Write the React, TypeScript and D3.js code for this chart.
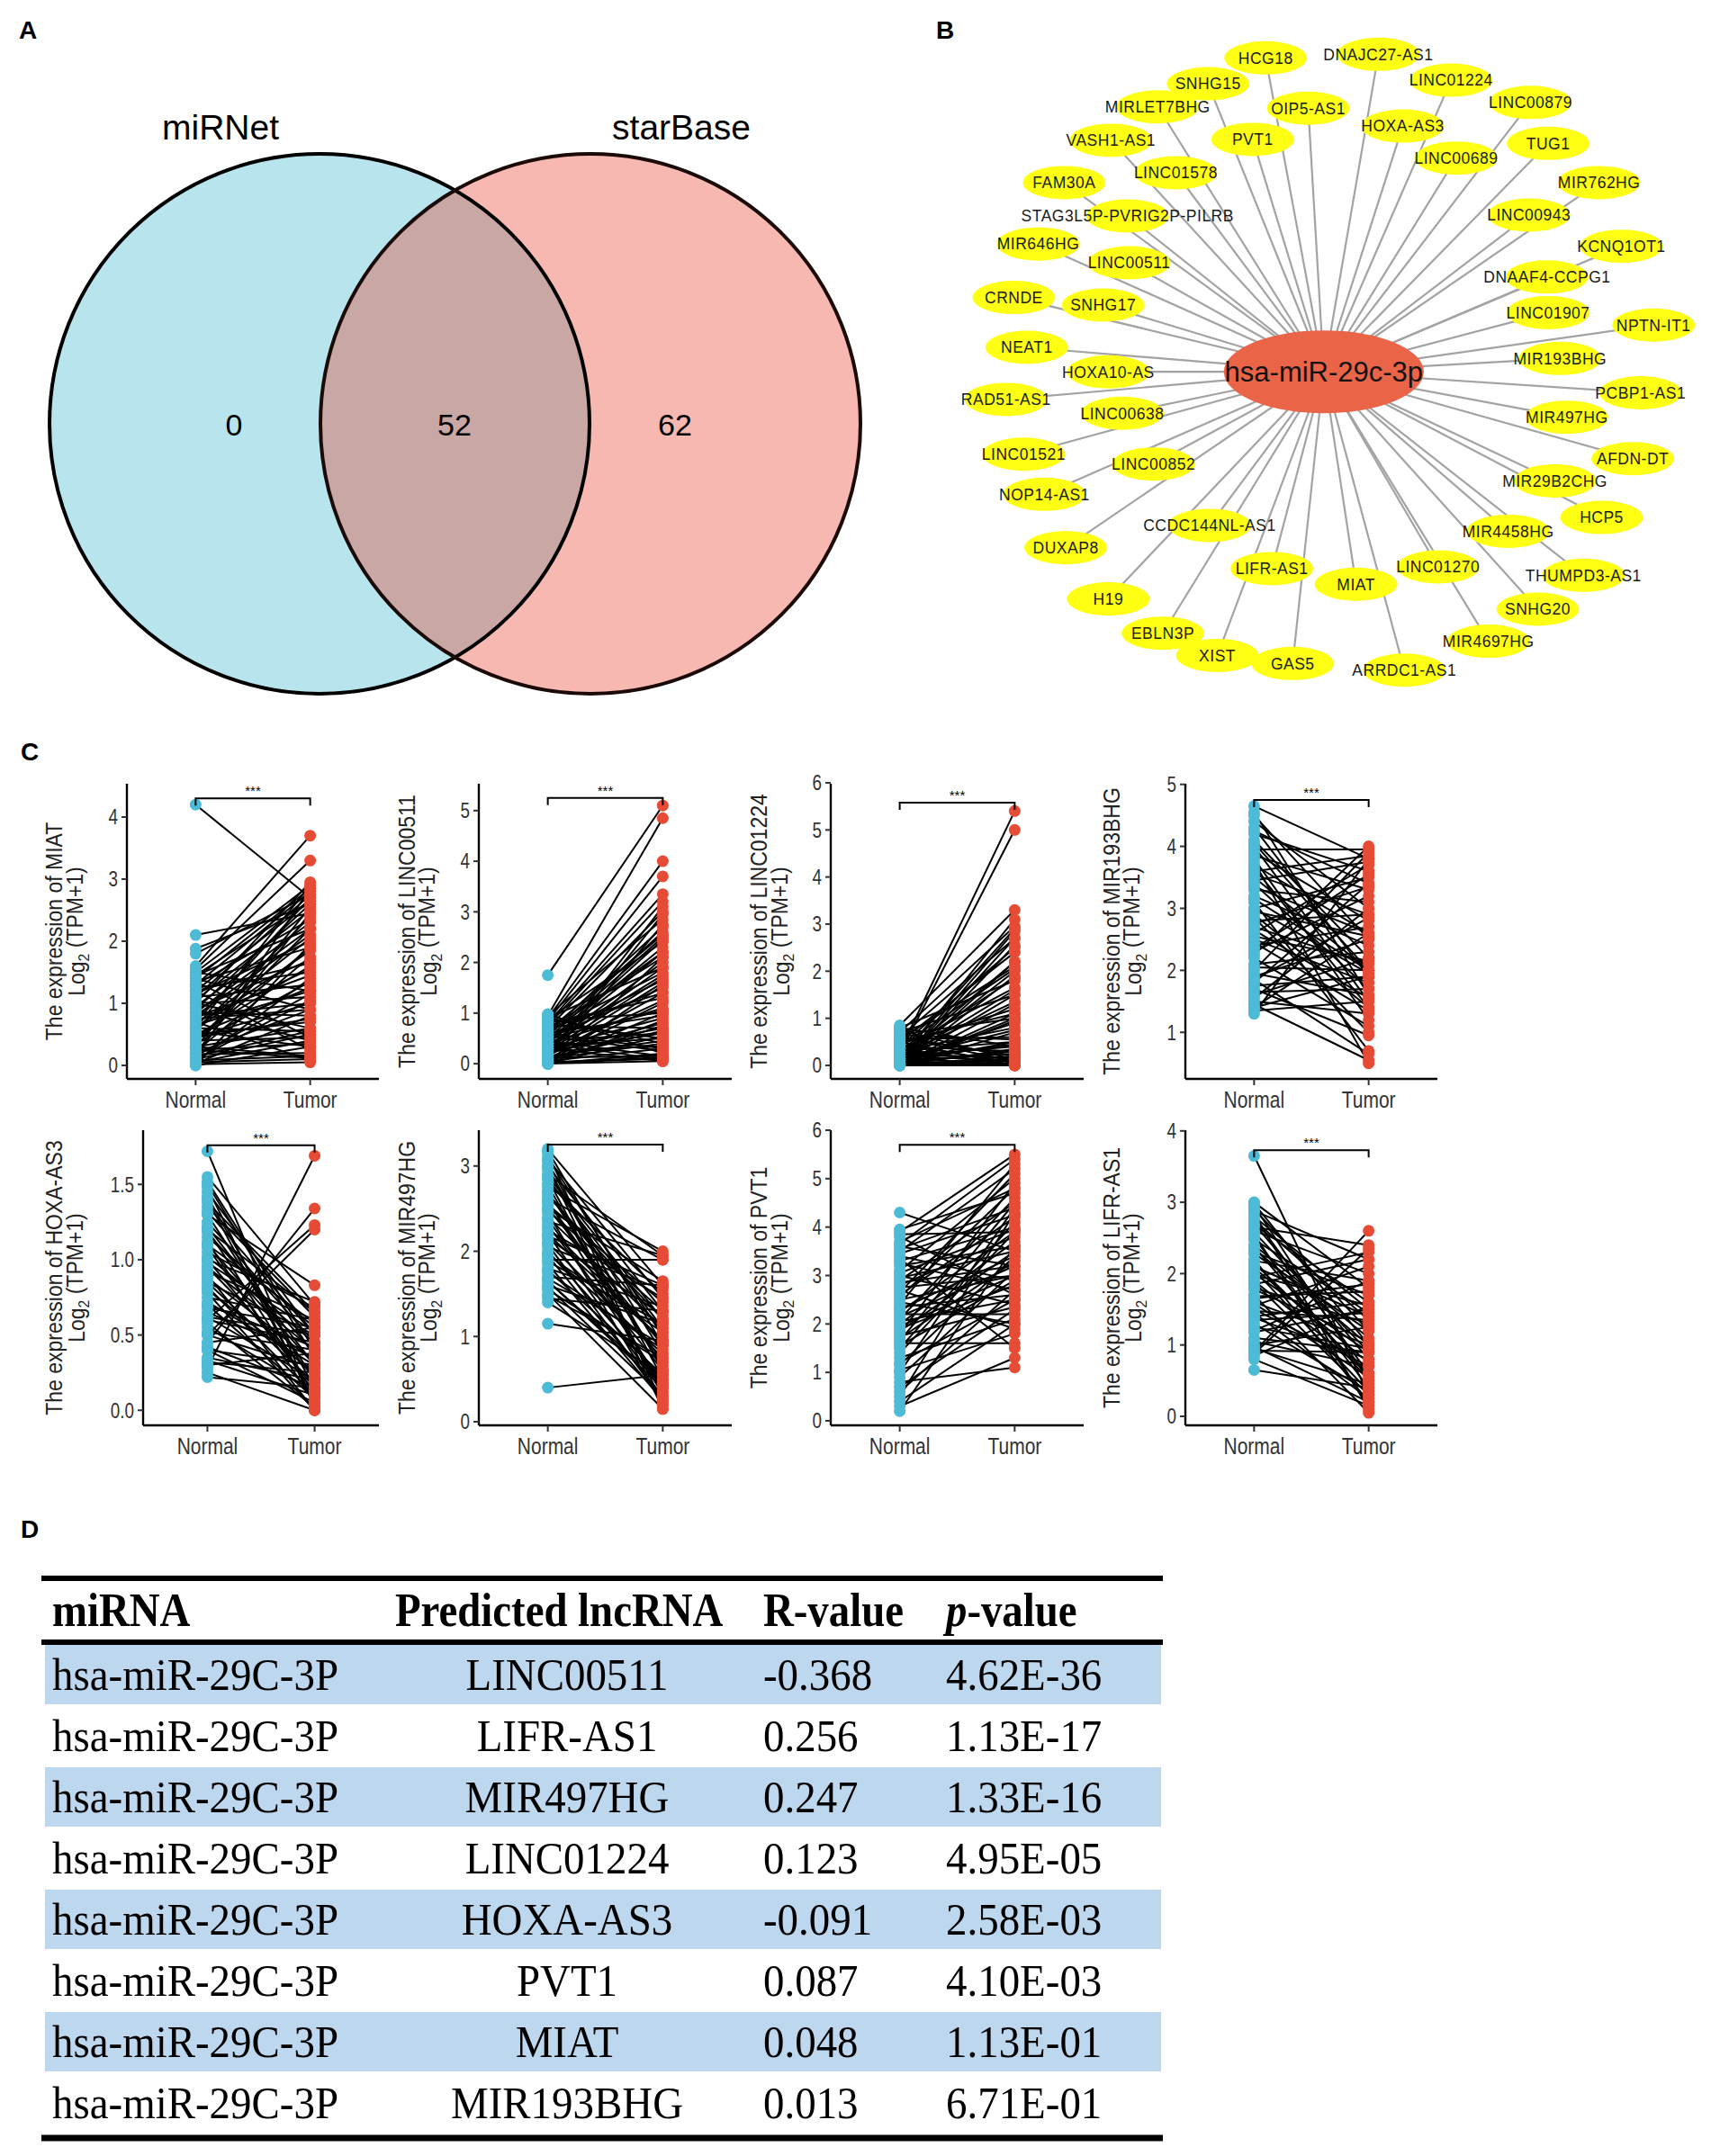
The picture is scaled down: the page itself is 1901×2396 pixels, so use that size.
import React from 'react';
import * as d3 from 'd3';

const W = 1901;
const H = 2396;
const SANS = '"Liberation Sans", Arial, Helvetica, sans-serif';
const SERIF = '"Liberation Serif", "Times New Roman", serif';

// ---- A: Venn ----
const vennSets = ['miRNet', 'starBase'];
const vennCounts = [0, 52, 62]; // miRNet only, shared, starBase only

// ---- B: network (layout units from the drawing) ----
const hubName = 'hsa-miR-29c-3p';
const hubLayout: [number, number] = [830, 835];
const lncNodes: [string, number, number][] = [
  ['HCG18', 718, 130], ['DNAJC27-AS1', 935, 122], ['SNHG15', 607, 188], ['LINC01224', 1075, 180],
  ['MIRLET7BHG', 510, 240], ['OIP5-AS1', 800, 243], ['LINC00879', 1228, 230], ['HOXA-AS3', 982, 283],
  ['VASH1-AS1', 420, 315], ['PVT1', 693, 313], ['TUG1', 1262, 322], ['LINC00689', 1085, 355],
  ['LINC01578', 545, 388], ['FAM30A', 330, 410], ['MIR762HG', 1360, 410],
  ['STAG3L5P-PVRIG2P-PILRB', 452, 485], ['LINC00943', 1225, 483], ['MIR646HG', 280, 548],
  ['LINC00511', 455, 590], ['KCNQ1OT1', 1403, 553], ['DNAAF4-CCPG1', 1260, 622], ['CRNDE', 233, 668],
  ['SNHG17', 405, 685], ['LINC01907', 1262, 702], ['NPTN-IT1', 1465, 730], ['NEAT1', 258, 780],
  ['HOXA10-AS', 415, 835], ['MIR193BHG', 1285, 805], ['RAD51-AS1', 218, 897], ['PCBP1-AS1', 1440, 882],
  ['LINC00638', 442, 928], ['MIR497HG', 1298, 937], ['LINC01521', 252, 1020], ['AFDN-DT', 1425, 1030],
  ['LINC00852', 502, 1042], ['MIR29B2CHG', 1275, 1080], ['NOP14-AS1', 292, 1110], ['HCP5', 1365, 1162],
  ['CCDC144NL-AS1', 610, 1180], ['MIR4458HG', 1185, 1193], ['DUXAP8', 333, 1230],
  ['THUMPD3-AS1', 1330, 1292], ['LIFR-AS1', 730, 1277], ['MIAT', 892, 1312], ['LINC01270', 1050, 1273],
  ['H19', 415, 1345], ['SNHG20', 1242, 1368], ['EBLN3P', 520, 1422], ['MIR4697HG', 1147, 1440],
  ['XIST', 625, 1472], ['GAS5', 770, 1490], ['ARRDC1-AS1', 985, 1505],
];

// ---- C: paired expression, [normal, tumor] ----
const groups = ['Normal', 'Tumor'];
const miatPairs = [
  [4.2, 2.7], [2.1, 2.45], [1.88, 2.6], [1.8, 2.75], [1.6, 3.7], [1.55, 3.3], [1.5, 2.9], [1.45, 2.2],
  [1.4, 2.85], [1.35, 1.9], [1.3, 2.8], [1.25, 1.5], [1.2, 2.65], [1.15, 2.0], [1.1, 1.3], [1.05, 2.5],
  [1.0, 1.1], [0.95, 2.3], [0.9, 1.7], [0.85, 0.8], [0.8, 2.1], [0.78, 1.45], [0.75, 0.9], [0.7, 2.7],
  [0.65, 1.2], [0.6, 0.55], [0.58, 1.85], [0.55, 2.4], [0.5, 0.7], [0.48, 1.6], [0.45, 1.0], [0.4, 0.45],
  [0.38, 2.2], [0.35, 1.35], [0.3, 0.6], [0.28, 2.55], [0.25, 0.35], [0.22, 1.75], [0.2, 0.9], [0.18, 0.2],
  [0.15, 1.15], [0.12, 2.85], [0.1, 0.5], [0.08, 0.15], [0.06, 1.4], [0.05, 0.1], [0.03, 0.8], [0.02, 0.05],
  [0.0, 1.95], [0.0, 0.3], [0.9, 0.4], [1.2, 0.25], [0.7, 0.08], [1.0, 2.95], [0.6, 2.05],
  [1.5, 1.2], [1.4, 0.9], [1.3, 2.35], [1.2, 1.65], [1.1, 2.75], [1.0, 0.6], [0.9, 2.6], [0.8, 1.0],
  [0.7, 1.55], [0.6, 2.9], [0.5, 1.25], [0.4, 1.9], [0.3, 0.15], [0.2, 2.45], [0.1, 1.05], [0.05, 0.4],
  [1.35, 0.45], [0.85, 2.2], [0.45, 0.75], [0.15, 0.55], [0.25, 0.12], [1.45, 2.65], [0.55, 0.3],
];
const linc00511Pairs = [
  [1.75, 5.1], [0.95, 4.85], [0.9, 4.0], [0.85, 3.7], [0.8, 3.35], [0.75, 3.2], [0.7, 3.0], [0.95, 2.85],
  [0.6, 2.7], [0.55, 2.6], [0.5, 2.5], [0.88, 2.4], [0.45, 2.3], [0.4, 2.2], [0.7, 2.1], [0.35, 2.0],
  [0.3, 1.9], [0.65, 1.8], [0.25, 1.7], [0.2, 1.6], [0.5, 1.5], [0.15, 1.4], [0.8, 1.3], [0.1, 1.2],
  [0.4, 1.1], [0.05, 1.0], [0.6, 0.95], [0.3, 0.9], [0.0, 0.85], [0.2, 0.8], [0.75, 0.7], [0.1, 0.65],
  [0.45, 0.6], [0.0, 0.55], [0.35, 0.5], [0.15, 0.45], [0.9, 0.4], [0.25, 0.35], [0.05, 0.3], [0.55, 0.25],
  [0.0, 0.2], [0.12, 0.15], [0.02, 0.1], [0.3, 0.05], [0.08, 2.75], [0.18, 3.1], [0.0, 1.55], [0.6, 2.2],
  [0.03, 0.12], [0.4, 0.08],
  [0.9, 1.9], [0.8, 0.5], [0.7, 1.4], [0.6, 0.3], [0.5, 1.05], [0.4, 2.45], [0.3, 0.7], [0.2, 1.25],
  [0.1, 0.4], [0.0, 2.1], [0.85, 1.0], [0.65, 2.55], [0.45, 0.15], [0.35, 1.75], [0.25, 0.6], [0.15, 2.95],
  [0.05, 0.75], [0.98, 0.2], [0.55, 1.65], [0.0, 0.05],
];
const linc01224Pairs = [
  [0.3, 5.4], [0.25, 5.0], [0.85, 3.3], [0.1, 3.1], [0.7, 2.95], [0.05, 2.85], [0.6, 2.7], [0.0, 2.55],
  [0.5, 2.4], [0.15, 2.2], [0.4, 2.05], [0.0, 1.9], [0.8, 1.8], [0.35, 1.65], [0.05, 1.5], [0.2, 1.35],
  [0.45, 1.2], [0.0, 1.1], [0.65, 1.0], [0.1, 0.9], [0.3, 0.8], [0.0, 0.7], [0.55, 0.6], [0.05, 0.5],
  [0.2, 0.4], [0.0, 0.35], [0.4, 0.3], [0.1, 0.25], [0.0, 0.2], [0.25, 0.15], [0.05, 0.1], [0.0, 0.05],
  [0.15, 0.02], [0.35, 0.0], [0.0, 0.0], [0.5, 0.0], [0.08, 0.0], [0.02, 0.03], [0.0, 2.2], [0.12, 1.6],
  [0.0, 0.95], [0.03, 2.7], [0.6, 0.08], [0.75, 0.12], [0.2, 2.9],
  [0.8, 0.4], [0.7, 1.5], [0.6, 0.2], [0.5, 1.1], [0.45, 0.05], [0.4, 2.5], [0.3, 0.5], [0.25, 1.85],
  [0.2, 0.1], [0.15, 0.75], [0.1, 2.0], [0.05, 0.3], [0.0, 1.3], [0.0, 0.15], [0.55, 2.1], [0.35, 0.0],
  [0.65, 0.55], [0.12, 0.45], [0.02, 1.0],
];
const mir193bhgPairs = [
  [4.65, 3.8], [4.5, 2.5], [4.4, 3.0], [4.3, 1.9], [4.2, 3.6], [4.1, 2.2], [4.0, 1.5], [3.95, 3.95],
  [3.9, 2.8], [3.85, 3.3], [3.8, 1.2], [3.7, 2.6], [3.6, 3.85], [3.5, 2.0], [3.4, 1.7], [3.3, 3.1],
  [3.2, 2.4], [3.1, 0.7], [3.0, 3.5], [2.9, 1.4], [2.8, 2.9], [2.7, 2.1], [2.6, 3.7], [2.5, 1.8],
  [2.4, 2.7], [2.3, 3.2], [2.2, 1.1], [2.1, 2.3], [2.0, 3.9], [1.95, 1.6], [1.9, 2.5], [1.8, 3.4],
  [1.75, 1.9], [1.7, 0.95], [1.6, 2.2], [1.55, 3.0], [1.5, 1.3], [1.45, 0.55], [1.4, 2.6], [1.35, 1.5],
  [1.3, 3.8], [3.75, 0.5], [2.25, 4.0], [1.85, 0.65], [3.55, 2.9], [2.85, 1.0], [4.05, 2.0], [2.45, 1.35],
  [4.55, 1.6], [4.25, 3.4], [3.65, 1.4], [3.45, 3.75], [3.15, 2.0], [2.95, 2.55], [2.65, 1.55], [2.35, 3.55],
  [2.05, 2.0], [1.65, 1.7], [1.4, 1.9], [3.0, 1.95], [2.75, 3.35], [2.55, 2.15], [1.85, 2.85], [3.35, 2.6],
];
const hoxaAs3Pairs = [
  [1.72, 0.02], [1.55, 0.7], [1.5, 0.35], [1.45, 0.5], [1.4, 0.05], [1.35, 0.62], [1.3, 0.2], [1.25, 0.45],
  [1.2, 0.1], [1.15, 0.55], [1.1, 0.3], [1.05, 0.68], [1.0, 0.15], [0.95, 0.4], [0.9, 0.0], [0.85, 0.5],
  [0.8, 0.25], [0.75, 0.6], [0.7, 0.08], [0.65, 0.35], [0.6, 0.45], [0.55, 0.12], [0.5, 0.28], [0.45, 0.55],
  [0.4, 0.05], [0.35, 0.2], [0.3, 0.38], [0.25, 0.0], [0.22, 0.15], [0.28, 1.69], [0.45, 1.34], [0.6, 1.23],
  [0.5, 1.2], [1.3, 0.83], [1.0, 0.72], [0.85, 0.18], [1.2, 0.65], [0.7, 0.42], [1.48, 0.03], [0.95, 0.22],
  [0.4, 0.3], [0.33, 0.1], [1.1, 0.58], [0.78, 0.0], [0.62, 0.5],
  [1.52, 0.4], [1.42, 0.15], [1.32, 0.5], [1.22, 0.3], [1.12, 0.05], [1.02, 0.45], [0.92, 0.6], [0.82, 0.1],
  [0.72, 0.3], [0.62, 0.2], [0.52, 0.4], [0.42, 0.15], [0.32, 0.25], [1.38, 0.65], [1.18, 0.38], [0.88, 0.32],
  [0.68, 0.55], [0.58, 0.02], [1.08, 0.12], [0.98, 0.52],
];
const mir497hgPairs = [
  [3.2, 1.6], [3.15, 0.2], [3.1, 1.0], [3.05, 0.5], [3.0, 1.3], [2.95, 0.8], [2.9, 1.95], [2.85, 0.3],
  [2.8, 1.5], [2.7, 0.65], [2.65, 1.2], [2.6, 0.4], [2.55, 1.4], [2.5, 0.9], [2.45, 0.2], [2.4, 1.1],
  [2.35, 1.95], [2.3, 0.6], [2.25, 1.45], [2.2, 0.35], [2.15, 1.25], [2.1, 0.75], [2.05, 1.55], [2.0, 0.5],
  [1.95, 1.05], [1.9, 1.9], [1.85, 0.25], [1.8, 1.35], [1.75, 0.85], [1.7, 1.6], [1.65, 0.45], [1.6, 1.15],
  [1.55, 0.7], [1.5, 0.15], [1.45, 1.3], [1.4, 0.55], [1.15, 0.95], [0.4, 0.55], [2.75, 2.0], [3.0, 0.15],
  [2.5, 1.65], [1.95, 0.3], [2.2, 0.95], [1.65, 0.4], [2.85, 1.1],
  [3.18, 0.9], [3.08, 1.45], [2.98, 0.6], [2.88, 1.2], [2.78, 0.35], [2.68, 1.05], [2.58, 0.7], [2.48, 1.3],
  [2.38, 0.45], [2.28, 0.95], [2.18, 1.6], [2.08, 0.25], [1.98, 0.8], [1.88, 1.15], [1.78, 0.55], [1.68, 0.9],
  [1.58, 0.3], [1.48, 0.75], [2.62, 1.9],
];
const pvt1Pairs = [
  [4.3, 3.5], [3.9, 5.5], [3.8, 2.6], [3.7, 4.8], [3.6, 3.2], [3.5, 5.2], [3.4, 2.9], [3.3, 4.0],
  [3.2, 3.6], [3.1, 5.0], [3.0, 2.4], [2.9, 4.5], [2.8, 3.8], [2.7, 1.9], [2.6, 4.2], [2.5, 3.0],
  [2.4, 5.3], [2.3, 3.4], [2.2, 2.2], [2.1, 4.6], [2.0, 3.7], [1.9, 2.8], [1.8, 4.9], [1.7, 3.3],
  [1.6, 1.6], [1.5, 4.1], [1.4, 3.9], [1.2, 2.5], [1.0, 4.4], [0.9, 3.1], [0.8, 1.1], [0.6, 2.7],
  [0.5, 4.3], [0.3, 1.3], [0.2, 3.6], [3.95, 4.7], [2.95, 3.5], [2.45, 2.0], [1.95, 3.0], [3.35, 1.5],
  [2.65, 5.1], [1.75, 2.35], [3.05, 3.95], [2.15, 3.2], [1.3, 2.1],
  [3.85, 3.9], [3.55, 4.4], [3.25, 2.7], [2.85, 3.2], [2.55, 4.8], [2.25, 3.9], [1.85, 3.5], [1.55, 2.9],
  [1.15, 3.4], [0.7, 2.3], [0.4, 2.0], [3.65, 5.4], [2.35, 2.6], [1.65, 4.5], [2.75, 3.0], [3.45, 4.25],
  [1.05, 1.8], [2.05, 2.5],
];
const lifrAs1Pairs = [
  [3.65, 0.3], [3.0, 1.8], [2.95, 0.5], [2.9, 1.2], [2.85, 0.1], [2.8, 1.5], [2.7, 0.8], [2.6, 2.0],
  [2.5, 0.4], [2.4, 1.1], [2.3, 1.7], [2.2, 0.2], [2.1, 1.4], [2.0, 0.9], [1.95, 2.3], [1.9, 0.6],
  [1.8, 1.3], [1.7, 0.05], [1.6, 1.0], [1.55, 2.1], [1.5, 0.7], [1.4, 1.6], [1.3, 0.35], [1.2, 1.9],
  [1.1, 0.9], [1.0, 1.25], [0.95, 0.45], [0.9, 2.6], [0.85, 1.55], [0.8, 0.15], [0.65, 0.4], [2.65, 2.4],
  [2.35, 1.0], [1.85, 2.2], [2.15, 0.6], [1.45, 0.25], [1.25, 0.95], [2.75, 1.35], [1.65, 1.85], [1.05, 0.7],
  [2.55, 0.15], [0.88, 2.35], [1.35, 1.45], [2.05, 0.35],
  [2.98, 1.0], [2.88, 2.2], [2.78, 0.6], [2.68, 1.6], [2.58, 0.9], [2.48, 1.45], [2.38, 0.5], [2.28, 1.2],
  [2.18, 1.9], [2.08, 0.75], [1.98, 1.55], [1.88, 0.3], [1.78, 1.05], [1.68, 1.75], [1.58, 0.55], [1.48, 1.35],
  [1.38, 0.8], [1.18, 1.5], [0.98, 0.2], [0.92, 0.9],
];

const panels = [
  { gene: 'MIAT', pairs: miatPairs, ticks: [0, 1, 2, 3, 4], domain: [-0.217, 4.536], sig: 4.3, fmt: '' },
  { gene: 'LINC00511', pairs: linc00511Pairs, ticks: [0, 1, 2, 3, 4, 5], domain: [-0.3, 5.53], sig: 5.25, fmt: '' },
  { gene: 'LINC01224', pairs: linc01224Pairs, ticks: [0, 1, 2, 3, 4, 5, 6], domain: [-0.287, 5.98], sig: 5.58, fmt: '' },
  { gene: 'MIR193BHG', pairs: mir193bhgPairs, ticks: [1, 2, 3, 4, 5], domain: [0.249, 5.01], sig: 4.75, fmt: '' },
  { gene: 'HOXA-AS3', pairs: hoxaAs3Pairs, ticks: [0, 0.5, 1.0, 1.5], domain: [-0.1, 1.86], sig: 1.76, fmt: '.1f' },
  { gene: 'MIR497HG', pairs: mir497hgPairs, ticks: [0, 1, 2, 3], domain: [-0.042, 3.42], sig: 3.25, fmt: '' },
  { gene: 'PVT1', pairs: pvt1Pairs, ticks: [0, 1, 2, 3, 4, 5, 6], domain: [-0.093, 6.0], sig: 5.7, fmt: '' },
  { gene: 'LIFR-AS1', pairs: lifrAs1Pairs, ticks: [0, 1, 2, 3, 4], domain: [-0.126, 4.01], sig: 3.73, fmt: '' },
];
const axisXs = [141, 532, 923, 1317, 159, 532, 923, 1317];
const rightXs = [421, 813, 1204, 1597];

// ---- D: table ----
const tableHeader = ['miRNA', 'Predicted lncRNA', 'R-value', 'p-value'];
const tableMirna = ['hsa-miR-29C-3P', 'hsa-miR-29C-3P', 'hsa-miR-29C-3P', 'hsa-miR-29C-3P',
  'hsa-miR-29C-3P', 'hsa-miR-29C-3P', 'hsa-miR-29C-3P', 'hsa-miR-29C-3P'];
const tableLnc = ['LINC00511', 'LIFR-AS1', 'MIR497HG', 'LINC01224', 'HOXA-AS3', 'PVT1', 'MIAT', 'MIR193BHG'];
const tableR = ['-0.368', '0.256', '0.247', '0.123', '-0.091', '0.087', '0.048', '0.013'];
const tableP = ['4.62E-36', '1.13E-17', '1.33E-16', '4.95E-05', '2.58E-03', '4.10E-03', '1.13E-01', '6.71E-01'];

const PanelLabel = ({ x, y, t }: { x: number; y: number; t: string }) => (
  <text x={x} y={y} fontFamily={SANS} fontWeight="bold" fontSize={28} textAnchor="middle">{t}</text>
);

// narrow text helper: squeeze horizontally around its anchor point
const Narrow = ({ x, y, sx, children, ...rest }: any) => (
  <g transform={`translate(${x},${y}) scale(${sx},1)`}>
    <text x={0} y={0} {...rest}>{children}</text>
  </g>
);

const Venn = () => {
  const cx = [355, 656];
  const cy = 471;
  const r = 300;
  const labelX = [245, 757];
  const countX = [260, 505, 750];
  return (
    <g>
      <defs>
        <clipPath id="leftClip"><circle cx={cx[0]} cy={cy} r={r} /></clipPath>
      </defs>
      <circle cx={cx[0]} cy={cy} r={r} fill="#B8E4EE" />
      <circle cx={cx[1]} cy={cy} r={r} fill="#F6B8B0" />
      <circle cx={cx[1]} cy={cy} r={r} fill="#C9A7A5" clipPath="url(#leftClip)" />
      <circle cx={cx[0]} cy={cy} r={r} fill="none" stroke="#000" strokeWidth={4} />
      <circle cx={cx[1]} cy={cy} r={r} fill="none" stroke="#1a0a08" strokeWidth={4} />
      {vennSets.map((s, i) => (
        <text key={s} x={labelX[i]} y={155} fontFamily={SANS} fontSize={39} textAnchor="middle">{s}</text>
      ))}
      {vennCounts.map((c, i) => (
        <text key={i} x={countX[i]} y={484} fontFamily={SANS} fontSize={34} textAnchor="middle">{c}</text>
      ))}
    </g>
  );
};

const Network = () => {
  const nx = d3.scaleLinear().domain([0, 1560]).range([992, 1892]);
  const ny = d3.scaleLinear().domain([0, 1560]).range([0, 772]);
  const hx = nx(hubLayout[0]);
  const hy = ny(hubLayout[1]);
  return (
    <g>
      {lncNodes.map(([n, lx, ly]) => (
        <line key={'e' + n} x1={hx} y1={hy} x2={nx(lx)} y2={ny(ly)} stroke="#A3A3A3" strokeWidth={2.2} />
      ))}
      {lncNodes.map(([n, lx, ly]) => (
        <ellipse key={'n' + n} cx={nx(lx)} cy={ny(ly)} rx={46} ry={18.5} fill="#FFFF14" />
      ))}
      {lncNodes.map(([n, lx, ly]) => (
        <text key={'t' + n} x={nx(lx)} y={ny(ly)} dy="0.36em" textAnchor="middle" fontFamily={SANS}
          fontSize={17.5} letterSpacing={0.5} fill="#1a1a1a">{n}</text>
      ))}
      <ellipse cx={hx} cy={hy} rx={111} ry={46} fill="#EA6447" />
      <text x={hx} y={hy} dy="0.36em" textAnchor="middle" fontFamily={SANS} fontSize={31} fill="#111">{hubName}</text>
    </g>
  );
};

const Paired = () => (
  <g fontFamily={SANS}>
    {panels.map((p, i) => {
      const col = i % 4;
      const row = Math.floor(i / 4);
      const ax = axisXs[i];
      const rx = rightXs[col];
      const top = row ? 1256 : 871;
      const bottom = row ? 1584 : 1199;
      const y = d3.scaleLinear().domain(p.domain).range([bottom, top]);
      const x = d3.scalePoint<string>().domain(groups).range([ax, rx]).padding(0.6);
      const xn = x('Normal') as number;
      const xt = x('Tumor') as number;
      const fmt = p.fmt ? d3.format(p.fmt) : (v: number) => String(v);
      const tx = col * 391.5 + 60;
      const ty = (top + bottom) / 2;
      const by = y(p.sig);
      return (
        <g key={p.gene}>
          {p.pairs.map(([a, b], k) => (
            <line key={k} x1={xn} y1={y(a)} x2={xt} y2={y(b)} stroke="#000" strokeWidth={2} />
          ))}
          {p.pairs.map(([a], k) => <circle key={'n' + k} cx={xn} cy={y(a)} r={6.5} fill="#4DBBD5" />)}
          {p.pairs.map(([, b], k) => <circle key={'t' + k} cx={xt} cy={y(b)} r={6.5} fill="#E64B35" />)}
          <line x1={ax} y1={top} x2={ax} y2={bottom} stroke="#000" strokeWidth={2.4} />
          <line x1={ax} y1={bottom} x2={rx} y2={bottom} stroke="#000" strokeWidth={2.4} />
          {p.ticks.map(v => (
            <g key={v}>
              <line x1={ax - 6} x2={ax} y1={y(v)} y2={y(v)} stroke="#333" strokeWidth={2} />
              <Narrow x={ax - 10} y={y(v)} sx={0.82} dy="0.36em" textAnchor="end" fontSize={23} fill="#333">{fmt(v)}</Narrow>
            </g>
          ))}
          {groups.map(g => (
            <g key={g}>
              <line x1={x(g)} x2={x(g)} y1={bottom} y2={bottom + 7} stroke="#333" strokeWidth={2} />
              <Narrow x={x(g)} y={bottom + 32} sx={0.84} textAnchor="middle" fontSize={25} fill="#333">{g}</Narrow>
            </g>
          ))}
          <path d={`M${xn},${by + 8}V${by}H${xt}V${by + 8}`} fill="none" stroke="#000" strokeWidth={2} />
          <text x={(xn + xt) / 2} y={by - 3} textAnchor="middle" fontSize={15}>***</text>
          <g transform={`translate(${tx},${ty}) rotate(-90) scale(0.92,1)`}>
            <text x={0} y={0} dy="0.36em" textAnchor="middle" fontSize={25} fill="#222">{`The expression of ${p.gene}`}</text>
            <text x={0} y={25} dy="0.36em" textAnchor="middle" fontSize={25} fill="#222">
              Log<tspan fontSize={17} dy="0.3em">2</tspan><tspan dy="-0.3em"> (TPM+1)</tspan>
            </text>
          </g>
        </g>
      );
    })}
  </g>
);

const Table = () => {
  const rows = d3.scaleBand<number>().domain(d3.range(tableLnc.length)).range([1828, 2372]);
  const colX = [58, 630, 848, 1051];
  const headX = [58, 439, 848, 1051];
  const sx = 0.92;
  return (
    <g fontFamily={SERIF}>
      {tableLnc.map((_, i) => i % 2 === 0 ? (
        <rect key={'b' + i} x={50} y={rows(i)} width={1240} height={rows.bandwidth() - 2} fill="#BDD7EE" />
      ) : null)}
      <line x1={46} x2={1292} y1={1754} y2={1754} stroke="#000" strokeWidth={6} />
      <line x1={46} x2={1292} y1={1825} y2={1825} stroke="#000" strokeWidth={6} />
      <line x1={46} x2={1292} y1={2376} y2={2376} stroke="#000" strokeWidth={7} />
      {tableHeader.map((h, i) => (
        <Narrow key={h} x={headX[i]} y={1807} sx={0.9} fontSize={52} fontWeight="bold">
          {i === 3 ? (<><tspan fontStyle="italic">p</tspan>-value</>) : h}
        </Narrow>
      ))}
      {tableLnc.map((l, i) => {
        const cy = (rows(i) as number) + rows.bandwidth() / 2 + 16;
        return (
          <g key={'r' + i} fontSize={51}>
            <Narrow x={colX[0]} y={cy} sx={sx}>{tableMirna[i]}</Narrow>
            <Narrow x={colX[1]} y={cy} sx={sx} textAnchor="middle">{l}</Narrow>
            <Narrow x={colX[2]} y={cy} sx={sx}>{tableR[i]}</Narrow>
            <Narrow x={colX[3]} y={cy} sx={sx}>{tableP[i]}</Narrow>
          </g>
        );
      })}
    </g>
  );
};

export default function App() {
  return (
    <svg width={W} height={H} viewBox={`0 0 ${W} ${H}`} style={{ position: 'absolute', left: 0, top: 0, background: '#fff' }}>
      <rect width={W} height={H} fill="#fff" />
      <PanelLabel x={31} y={43} t="A" />
      <PanelLabel x={1050} y={43} t="B" />
      <PanelLabel x={33} y={845} t="C" />
      <PanelLabel x={33} y={1709} t="D" />
      <Venn />
      <Network />
      <Paired />
      <Table />
    </svg>
  );
}
